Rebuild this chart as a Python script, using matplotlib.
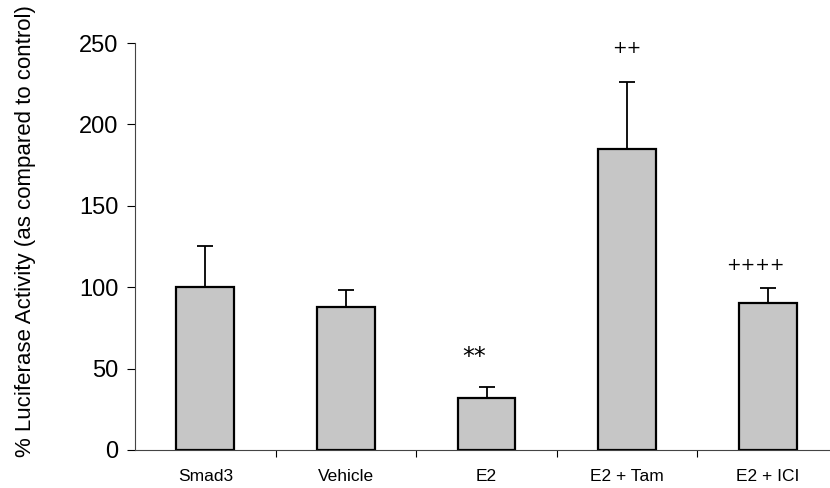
import numpy as np
import matplotlib.pyplot as plt

plt.rcParams['font.family'] = ['Liberation Sans', 'DejaVu Sans']

groups = ['Smad3', 'Vehicle', 'E2', 'E2 + Tam', 'E2 + ICI']
means = [100, 88, 32, 185, 90]
err_up = [25.5, 10.5, 7, 41, 9.5]
marks = ['', '', '**', '++', '++++']
mark_y = [0, 0, 57, 247, 113.5]
mark_dx = [0, 0, -0.09, 0, -0.09]
mark_size = [0, 0, 17, 12.5, 12.5]

fig = plt.figure(figsize=(8.3, 4.88), dpi=100)
ax = fig.add_axes([135 / 830, 38 / 488, 703 / 830, 407 / 488])

x = np.arange(len(groups))
ax.bar(x, means, width=0.41, color='#c6c6c6', edgecolor='black', linewidth=1.6, zorder=2)
ax.errorbar(x, means, yerr=[np.zeros(len(means)), err_up], fmt='none', ecolor='black',
            elinewidth=1.3, capsize=6, capthick=1.3, zorder=1)

for i, m in enumerate(marks):
    if m:
        ax.text(x[i] + mark_dx[i], mark_y[i], m, ha='center', va='center',
                fontsize=mark_size[i], family='DejaVu Sans', color='black')

ax.set_xlim(-0.5, 4.5)
ax.set_ylim(0, 250)
ax.set_yticks(np.arange(0, 251, 50))
ax.set_xticks(x)
ax.set_xticklabels(groups, fontsize=12.5)
ax.set_xticks(np.arange(0.5, 4.5, 1), minor=True)
ax.tick_params(axis='x', which='major', length=0, pad=14)
ax.tick_params(axis='x', which='minor', length=5, direction='out', width=0.8)
ax.tick_params(axis='y', length=6, width=0.8, labelsize=17, pad=6)
fig.text(26 / 830, 257 / 488, '% Luciferase Activity (as compared to control)',
         rotation=90, ha='center', va='center', fontsize=16)

for s in ['top', 'right']:
    ax.spines[s].set_visible(False)
ax.spines['left'].set_linewidth(0.8)
ax.spines['bottom'].set_linewidth(0.8)
ax.spines['left'].set_color('#444444')
ax.spines['bottom'].set_color('#444444')

fig.savefig('out.png', dpi=100)
